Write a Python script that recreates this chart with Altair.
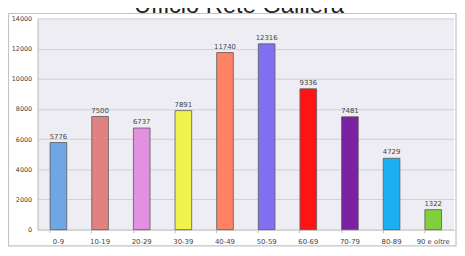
import altair as alt
import pandas as pd

categories = ["0-9", "10-19", "20-29", "30-39", "40-49", "50-59", "60-69", "70-79", "80-89", "90 e oltre"]
values = [5776, 7500, 6737, 7891, 11740, 12316, 9336, 7481, 4729, 1322]
colors = ["#6fa6e4", "#e08282", "#e290e0", "#f2f24c", "#ff8262", "#8170f2", "#ff1414", "#7a22a2", "#1cb0f2", "#80d03c"]
y_ticks = [0, 2000, 4000, 6000, 8000, 10000, 12000, 14000]
title_text = "Ufficio Rete Galliera"

df = pd.DataFrame({"cat": categories, "val": values, "color": colors})

W, H = 422, 214

xenc = alt.X("cat:N", sort=categories,
             scale=alt.Scale(paddingInner=0.6, paddingOuter=0.3),
             axis=alt.Axis(title=None, labelAngle=0, labelFontSize=7, labelColor="#444",
                           labelFont="DejaVu Sans", labelPadding=5,
                           ticks=True, tickSize=3, tickColor="#bbb", bandPosition=0,
                           domainColor="#c8c8c8", grid=False))
yenc = alt.Y("val:Q", scale=alt.Scale(domain=[0, 14000], nice=False),
             axis=alt.Axis(title=None, values=y_ticks, format="d", labelFontSize=6.5,
                           labelColor="#444", labelFont="DejaVu Sans", ticks=False,
                           labelOverlap=False, labelFlush=False,
                           labelPadding=6, domainColor="#bbbbbb",
                           gridColor="#cfcfd6", gridWidth=1))

bars = alt.Chart(df).mark_bar(stroke="#5a5a5a", strokeWidth=0.8).encode(
    x=xenc, y=yenc,
    color=alt.Color("color:N", scale=None),
)

labels = alt.Chart(df).mark_text(dy=-6, fontSize=7, font="DejaVu Sans", color="#444").encode(
    x=xenc, y=yenc, text=alt.Text("val:Q", format="d")
)

frame = alt.Chart(pd.DataFrame({"a": [0]})).mark_rect(
    fill="transparent", stroke="#c4c4c4", strokeWidth=1.2
).encode(x=alt.value(-29.5), x2=alt.value(424), y=alt.value(-5), y2=alt.value(230.5))

title = alt.Chart(pd.DataFrame({"t": [title_text]})).mark_text(
    font="Liberation Sans", fontSize=24, color="#222", baseline="alphabetic", align="center"
).encode(x=alt.value(204), y=alt.value(-6), text="t:N")

chart = alt.layer(frame, bars, labels, title).properties(
    width=W, height=H,
    autosize=alt.AutoSizeParams(type="none"),
    padding={"left": 30, "top": 9, "right": 3, "bottom": 17},
    background="white",
).configure_view(fill="#eeedf4", stroke=None)

chart.save("out.html", embed_options={"renderer": "svg", "actions": False})
